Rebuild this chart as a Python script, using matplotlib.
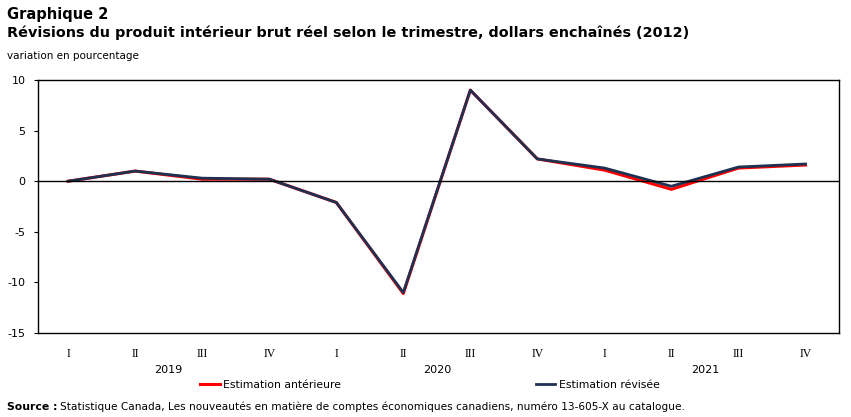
import matplotlib.pyplot as plt

quarters = ['I', 'II', 'III', 'IV'] * 3
years = ['2019', '2020', '2021']
prev_est = [0.0, 1.0, 0.2, 0.2, -2.1, -11.1, 9.0, 2.2, 1.1, -0.8, 1.3, 1.6]
revised_est = [0.0, 1.0, 0.3, 0.2, -2.1, -11.0, 9.0, 2.2, 1.3, -0.5, 1.4, 1.7]

W, H = 851, 417
fig = plt.figure(figsize=(W / 100, H / 100), dpi=100)
ax = fig.add_axes([38 / W, 1 - 333 / H, (839 - 38) / W, (333 - 80) / H])

x = list(range(len(quarters)))
l1, = ax.plot(x, prev_est, color='#ff0000', lw=2.2, label='Estimation antérieure')
l2, = ax.plot(x, revised_est, color='#1f3150', lw=2.0, label='Estimation révisée')
ax.axhline(0, color='black', lw=1)

ax.set_xlim(-0.45, 11.5)
ax.set_ylim(-15, 10)
ax.set_yticks([-15, -10, -5, 0, 5, 10])
ax.set_yticklabels(['-15', '-10', '-5', '0', '5', '10'], fontsize=8)
ax.tick_params(axis='y', length=3, pad=6)
ax.set_xticks(x)
ax.set_xticklabels(quarters, fontsize=8.5, family='Liberation Serif')
ax.tick_params(axis='x', length=0, pad=11)
for s in ax.spines.values():
    s.set_linewidth(1)

# year labels under each group of quarters
for i, yr in enumerate(years):
    ax.text(i * 4 + 1.5, -0.145, yr, transform=ax.get_xaxis_transform(),
            ha='center', va='center', fontsize=8)

fig.text(7 / W, 1 - 15 / H, 'Graphique 2', fontsize=10.5, fontweight='bold', va='center')
fig.text(7 / W, 1 - 33 / H,
         'Révisions du produit intérieur brut réel selon le trimestre, dollars enchaînés (2012)',
         fontsize=10.4, fontweight='bold', va='center')
fig.text(7 / W, 1 - 56 / H, 'variation en pourcentage', fontsize=7.5, va='center')

fig.legend(handles=[l1, l2], loc='center', bbox_to_anchor=(0.505, 1 - 385 / H),
           ncol=2, frameon=False, fontsize=7.8, handlelength=1.8, handletextpad=0.3,
           columnspacing=18)

fig.text(7 / W, 1 - 407 / H, 'Source :', fontsize=7.8, fontweight='bold', va='center')
fig.text(60 / W, 1 - 407 / H,
         'Statistique Canada, Les nouveautés en matière de comptes économiques canadiens, numéro 13-605-X au catalogue.',
         fontsize=7.6, va='center')

fig.savefig('out.png', dpi=100)
